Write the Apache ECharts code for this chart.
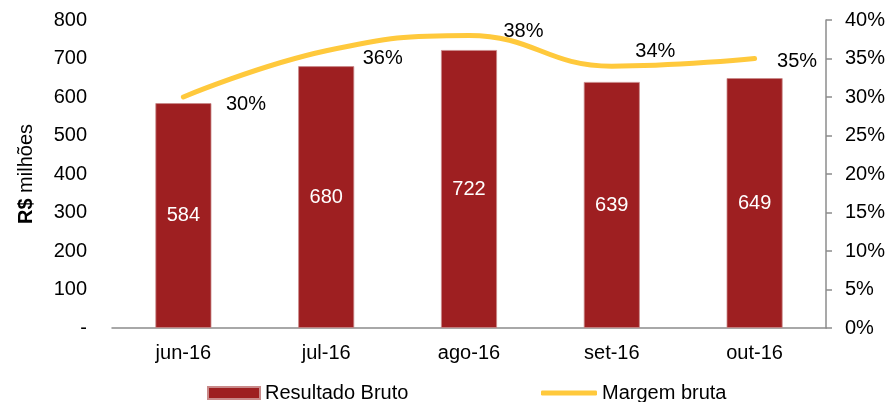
<!DOCTYPE html>
<html>
<head>
<meta charset="utf-8">
<script src="https://cdn.jsdelivr.net/npm/echarts@6/dist/echarts.min.js"></script>
<style>
  html, body { margin: 0; padding: 0; background: #fff; }
  #main { width: 890px; height: 402px; }
</style>
</head>
<body>
<div id="main"></div>
<script>
// dados
var meses = ['jun-16', 'jul-16', 'ago-16', 'set-16', 'out-16'];
var resultadoBruto = [584, 680, 722, 639, 649];
var margemBruta = [30, 36, 38, 34, 35];

// posicao dos rotulos da margem (ajuste fino, como no excel)
var rotuloDesloc = [[42, 7], [36, 8], [34, -4], [23, -15], [22, 3]];

var fonte = 'Liberation Sans, Arial, sans-serif';
var cinza = '#8c8c8c';
var tam = 20;

var chart = echarts.init(document.getElementById('main'));

var margemData = margemBruta.map(function (v, i) {
    return {
        value: v,
        label: { offset: rotuloDesloc[i] }
    };
});

var option = {
    animation: false,
    textStyle: { fontFamily: fonte },
    grid: { left: 112, right: 64, top: 20, bottom: 74 },
    legend: [
        {
            left: 202,
            top: 378,
            itemWidth: 52,
            itemHeight: 12,
            textStyle: { fontSize: tam, color: '#000', fontFamily: fonte },
            data: [{ name: 'Resultado Bruto', icon: 'rect' }]
        },
        {
            left: 536,
            top: 378,
            itemWidth: 56,
            itemHeight: 5,
            textStyle: { fontSize: tam, color: '#000', fontFamily: fonte },
            data: [{ name: 'Margem bruta', icon: 'roundRect' }]
        }
    ],
    xAxis: {
        type: 'category',
        data: meses,
        axisLine: { lineStyle: { color: cinza, width: 1.5 } },
        axisTick: { length: 6, lineStyle: { color: cinza, width: 1.5 } },
        axisLabel: { fontSize: tam, color: '#000', margin: 15, fontFamily: fonte }
    },
    yAxis: [
        {
            type: 'value',
            min: 0, max: 800, interval: 100,
            name: '{b|R$} milhões',
            nameLocation: 'middle',
            nameRotate: 90,
            nameGap: 76,
            nameTextStyle: {
                fontSize: tam, color: '#000', fontFamily: fonte,
                rich: { b: { fontSize: tam, fontWeight: 'bold', color: '#000', fontFamily: fonte } }
            },
            axisLine: { show: false },
            axisTick: { show: false },
            splitLine: { show: false },
            axisLabel: {
                fontSize: tam, color: '#000', margin: 25, fontFamily: fonte,
                formatter: function (v) { return v === 0 ? '-' : v; }
            }
        },
        {
            type: 'value',
            min: 0, max: 40, interval: 5,
            position: 'right',
            axisLine: { show: true, lineStyle: { color: cinza, width: 1.5 } },
            axisTick: { show: true, length: 6, lineStyle: { color: cinza, width: 1.5 } },
            splitLine: { show: false },
            axisLabel: { fontSize: tam, color: '#000', margin: 19, fontFamily: fonte, formatter: '{value}%' }
        }
    ],
    series: [
        {
            name: 'Resultado Bruto',
            type: 'bar',
            barWidth: 56,
            data: resultadoBruto,
            itemStyle: { color: '#9e1f21', borderColor: '#c98a8a', borderWidth: 0.8 },
            label: {
                show: true,
                position: 'inside',
                color: '#fff',
                fontSize: tam,
                fontFamily: fonte
            }
        },
        {
            name: 'Margem bruta',
            type: 'line',
            yAxisIndex: 1,
            smooth: 0.45,
            data: margemData,
            symbol: 'circle',
            symbolSize: 1,
            lineStyle: { color: '#ffc93c', width: 5, cap: 'round' },
            itemStyle: { color: '#ffc93c' },
            label: {
                show: true,
                position: 'right',
                distance: 0,
                color: '#000',
                fontSize: tam,
                fontFamily: fonte,
                formatter: '{c}%'
            }
        }
    ]
};

chart.setOption(option);
</script>
</body>
</html>
